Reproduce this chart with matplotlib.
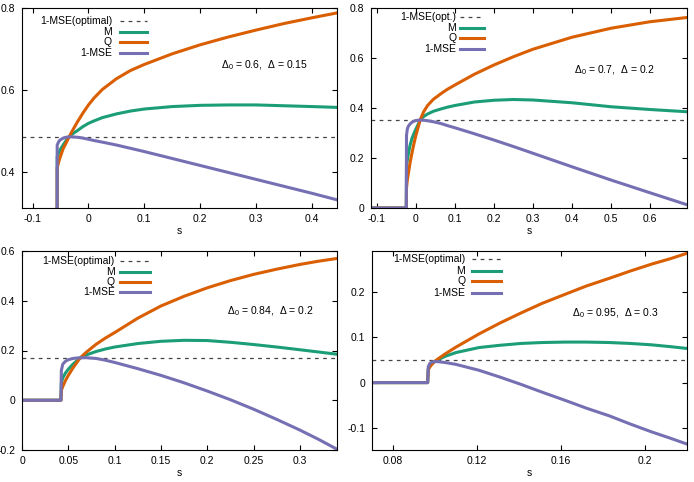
import matplotlib
matplotlib.use('Agg')
import matplotlib.pyplot as plt
from matplotlib.ticker import FuncFormatter

plt.rcParams['font.family'] = ['Liberation Sans', 'DejaVu Sans']
plt.rcParams['font.size'] = 7.5
plt.rcParams['mathtext.default'] = 'regular'

green = '#1b9e77'
orange = '#d95f02'
purple = '#7570b3'

######################## data ########################
# panel 1 : Delta0=0.6, Delta=0.15
s1 = [-0.119, -0.0562, -0.056, -0.053, -0.05, -0.045, -0.04, -0.035, -0.03, -0.02, -0.01, 0,
      0.01, 0.025, 0.05, 0.075, 0.1, 0.15, 0.2, 0.25, 0.3, 0.35, 0.4, 0.445]
m1 = [0, 0, 0.437, 0.447, 0.455, 0.466, 0.476, 0.485, 0.491, 0.500, 0.510, 0.518,
      0.524, 0.532, 0.541, 0.548, 0.553, 0.559, 0.562, 0.563, 0.563, 0.561, 0.559, 0.557]
q1 = [0, 0, 0.41, 0.425, 0.438, 0.457, 0.470, 0.484, 0.497, 0.521, 0.543, 0.563,
      0.580, 0.601, 0.627, 0.647, 0.662, 0.688, 0.710, 0.729, 0.746, 0.762, 0.776, 0.788]
e1 = [0, 0, 0.465, 0.474, 0.478, 0.482, 0.484, 0.485, 0.485, 0.484, 0.482, 0.479,
      0.476, 0.472, 0.465, 0.457, 0.449, 0.432, 0.415, 0.398, 0.381, 0.364, 0.347, 0.331]
opt1 = 0.485

# panel 2 : Delta0=0.7, Delta=0.2
s2 = [-0.115, -0.0245, -0.024, -0.022, -0.02, -0.015, -0.01, -0.005, 0, 0.011, 0.02, 0.03,
      0.045, 0.064, 0.08, 0.1, 0.15, 0.2, 0.25, 0.3, 0.4, 0.5, 0.6, 0.695]
m2 = [0, 0, 0.17, 0.19, 0.21, 0.25, 0.278, 0.298, 0.315, 0.352, 0.366, 0.376,
      0.387, 0.396, 0.403, 0.41, 0.424, 0.431, 0.434, 0.432, 0.421, 0.405, 0.394, 0.385]
q2 = [0, 0, 0.08, 0.11, 0.13, 0.18, 0.22, 0.257, 0.29, 0.352, 0.385, 0.41,
      0.435, 0.457, 0.474, 0.492, 0.535, 0.572, 0.605, 0.635, 0.683, 0.719, 0.745, 0.762]
e2 = [0, 0, 0.29, 0.315, 0.325, 0.336, 0.343, 0.347, 0.35, 0.352, 0.351, 0.349,
      0.345, 0.338, 0.33, 0.321, 0.297, 0.272, 0.246, 0.219, 0.165, 0.112, 0.061, 0.013]
opt2 = 0.351

# panel 3 : Delta0=0.84, Delta=0.2
s3 = [0, 0.042, 0.0425, 0.044, 0.047, 0.05, 0.055, 0.0627, 0.07, 0.08, 0.09, 0.1,
      0.125, 0.15, 0.175, 0.2, 0.225, 0.25, 0.275, 0.3, 0.32, 0.34]
m3 = [0, 0, 0.07, 0.09, 0.11, 0.125, 0.145, 0.170, 0.183, 0.196, 0.206, 0.214,
      0.228, 0.237, 0.241, 0.240, 0.233, 0.224, 0.214, 0.203, 0.194, 0.185]
q3 = [0, 0, 0.04, 0.055, 0.08, 0.1, 0.13, 0.170, 0.195, 0.225, 0.25, 0.272,
      0.33, 0.379, 0.418, 0.452, 0.481, 0.506, 0.527, 0.546, 0.559, 0.570]
e3 = [0, 0, 0.12, 0.145, 0.157, 0.163, 0.168, 0.171, 0.171, 0.168, 0.161, 0.152,
      0.127, 0.10, 0.07, 0.037, 0.002, -0.036, -0.077, -0.12, -0.157, -0.197]
opt3 = 0.171

# panel 4 : Delta0=0.95, Delta=0.3
s4 = [0.07, 0.0965, 0.0968, 0.0975, 0.0985, 0.1, 0.1014, 0.105, 0.11, 0.121, 0.131, 0.141,
      0.151, 0.162, 0.172, 0.183, 0.193, 0.203, 0.212, 0.22]
m4 = [0, 0, 0.03, 0.037, 0.042, 0.047, 0.050, 0.058, 0.066, 0.077, 0.082, 0.086,
      0.088, 0.089, 0.089, 0.088, 0.086, 0.083, 0.079, 0.075]
q4 = [0, 0, 0.028, 0.034, 0.04, 0.047, 0.052, 0.0635, 0.078, 0.107, 0.131, 0.153,
      0.174, 0.194, 0.212, 0.229, 0.245, 0.260, 0.272, 0.284]
e4 = [0, 0, 0.035, 0.042, 0.045, 0.046, 0.046, 0.044, 0.04, 0.027, 0.012, -0.004,
      -0.021, -0.039, -0.056, -0.073, -0.091, -0.108, -0.122, -0.135]
opt4 = 0.049

labels1 = ['1-MSE(optimal)', 'M', 'Q', '1-MSE']
labels2 = ['1-MSE(opt.)', 'M', 'Q', '1-MSE']
notes = [r'$\Delta_0$ = 0.6,  $\Delta$ = 0.15',
         r'$\Delta_0$ = 0.7,  $\Delta$ = 0.2',
         r'$\Delta_0$ = 0.84,  $\Delta$ = 0.2',
         r'$\Delta_0$ = 0.95,  $\Delta$ = 0.3']

xticks = [[-0.1, 0, 0.1, 0.2, 0.3, 0.4],
          [-0.1, 0, 0.1, 0.2, 0.3, 0.4, 0.5, 0.6],
          [0, 0.05, 0.1, 0.15, 0.2, 0.25, 0.3],
          [0.08, 0.12, 0.16, 0.2]]
yticks = [[0.4, 0.6, 0.8],
          [0, 0.2, 0.4, 0.6, 0.8],
          [-0.2, 0, 0.2, 0.4, 0.6],
          [-0.1, 0, 0.1, 0.2]]
xlims = [(-0.119, 0.445), (-0.115, 0.695), (0, 0.34), (0.07, 0.22)]
ylims = [(0.311, 0.8), (0, 0.8), (-0.2, 0.6), (-0.148, 0.289)]

######################## layout ########################
W, H = 694.0, 482.0
boxes = [(22, 8, 337, 208), (371, 8, 687, 208), (22, 251, 337, 450), (372, 251, 687, 450)]
# key: text right edge, sample start, sample end (axes fraction), row y's
keys = [(0.286, 0.311, 0.397, [0.935, 0.882, 0.829, 0.777]),
        (0.27, 0.283, 0.357, [0.957, 0.902, 0.848, 0.795]),
        (0.295, 0.311, 0.406, [0.950, 0.896, 0.846, 0.796]),
        (0.296, 0.317, 0.409, [0.958, 0.90, 0.85, 0.79])]
note_pos = [(0.631, 0.715), (0.641, 0.687), (0.65, 0.695), (0.635, 0.685)]

fmt = FuncFormatter(lambda v, p: '%g' % (round(v, 6) + 0.0))

fig = plt.figure(figsize=(6.94, 4.82), dpi=100)
data = [(s1, m1, q1, e1, opt1), (s2, m2, q2, e2, opt2), (s3, m3, q3, e3, opt3), (s4, m4, q4, e4, opt4)]

for i in range(4):
    x0, y0, x1, y1 = boxes[i]
    ax = fig.add_axes([x0 / W, 1 - y1 / H, (x1 - x0) / W, (y1 - y0) / H])
    s, m, q, e, opt = data[i]
    ax.axhline(opt, color='#444444', lw=0.9, dashes=(3, 3.5))
    ax.plot(s, m, color=green, lw=2.2)
    ax.plot(s, q, color=orange, lw=2.2)
    ax.plot(s, e, color=purple, lw=2.2)
    ax.set_xlim(xlims[i])
    ax.set_ylim(ylims[i])
    ax.set_xticks(xticks[i])
    ax.set_yticks(yticks[i])
    ax.xaxis.set_major_formatter(fmt)
    ax.yaxis.set_major_formatter(fmt)
    ax.tick_params(direction='in', length=3.5, width=0.8, top=True, right=True, pad=4)
    ax.tick_params(axis='y', pad=5)
    for sp in ax.spines.values():
        sp.set_linewidth(0.8)
    ax.set_xlabel('s', labelpad=2)

    # key, gnuplot style (text right aligned, sample after)
    tx, lx0, lx1, rows = keys[i]
    labs = labels2 if i == 1 else labels1
    styles = [dict(color='#444444', lw=0.9, dashes=(3, 3.5)),
              dict(color=green, lw=2.2), dict(color=orange, lw=2.2), dict(color=purple, lw=2.2)]
    for lab, yy, st in zip(labs, rows, styles):
        ax.text(tx, yy, lab, transform=ax.transAxes, ha='right', va='center')
        ax.plot([lx0, lx1], [yy, yy], transform=ax.transAxes, **st)

    nx, ny = note_pos[i]
    ax.text(nx, ny, notes[i], transform=ax.transAxes, ha='left', va='center')

plt.savefig('out.png', dpi=100)
